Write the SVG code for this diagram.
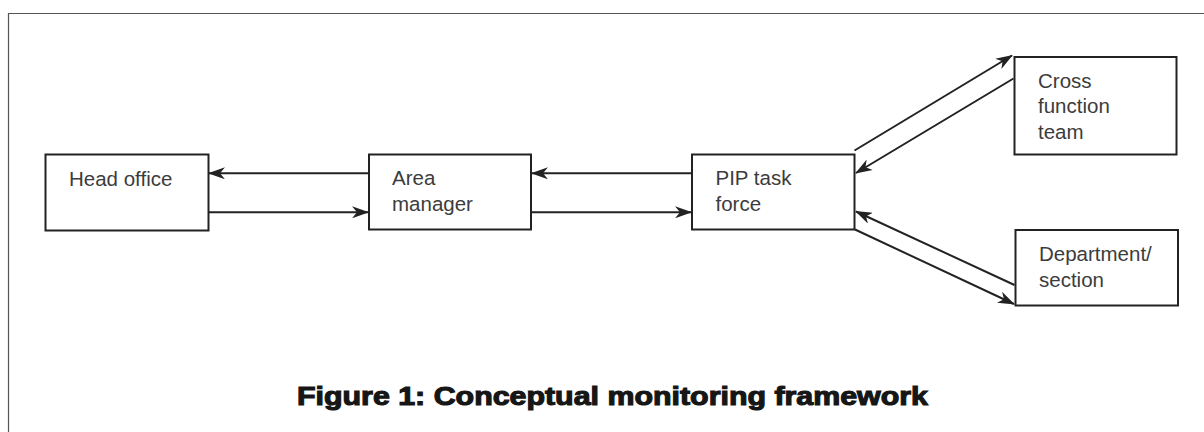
<svg xmlns="http://www.w3.org/2000/svg" width="1204" height="432" viewBox="0 0 1204 432">
  <style>
    .box { fill: #ffffff; stroke: #222222; stroke-width: 2; }
    .lbl { font-family: "Liberation Sans", Arial, sans-serif; font-size: 20.5px; fill: #3c3c3c; }
    .conn { stroke: #222222; stroke-width: 2; fill: none; marker-end: url(#arr); }
    .title { font-family: "Liberation Sans", Arial, sans-serif; font-size: 25px; font-weight: 900; fill: #161616; stroke: #161616; stroke-width: 1.1; }
  </style>
  <defs>
    <marker id="arr" viewBox="0 0 17 12" refX="16" refY="6" markerWidth="17" markerHeight="12" orient="auto" markerUnits="userSpaceOnUse">
      <path d="M0,0 L17,6 L0,12 L5,6 z" fill="#222222"/>
    </marker>
  </defs>
  <rect width="1204" height="432" fill="#ffffff"/>
  <path d="M8.5,432 L8.5,13.5 L1204,13.5" fill="none" stroke="#555555" stroke-width="1.2"/>

  <g id="connectors">
    <path class="conn" d="M368,173.3 L209,173.3"/>
    <path class="conn" d="M209,212.3 L368,212.3"/>
    <path class="conn" d="M692,173.3 L532,173.3"/>
    <path class="conn" d="M532,212.3 L691,212.3"/>
    <path class="conn" d="M854.5,150.5 L1012,55.5"/>
    <path class="conn" d="M1013.5,78.5 L856,173"/>
    <path class="conn" d="M1014.5,285 L856,211.5"/>
    <path class="conn" d="M855,229.5 L1014,304"/>
  </g>

  <g id="head-office">
    <rect class="box" x="45.5" y="154.5" width="163" height="76"/>
    <text class="lbl" x="69" y="186">Head office</text>
  </g>
  <g id="area-manager">
    <rect class="box" x="369" y="154.5" width="162" height="75"/>
    <text class="lbl" x="392" y="185">Area</text>
    <text class="lbl" x="392" y="211">manager</text>
  </g>
  <g id="pip-task-force">
    <rect class="box" x="692" y="154.5" width="162.5" height="75"/>
    <text class="lbl" x="715.5" y="185">PIP task</text>
    <text class="lbl" x="715.5" y="211">force</text>
  </g>
  <g id="cross-function-team">
    <rect class="box" x="1014.5" y="57" width="162" height="97.5"/>
    <text class="lbl" x="1038" y="87.5">Cross</text>
    <text class="lbl" x="1038" y="113">function</text>
    <text class="lbl" x="1038" y="138.5">team</text>
  </g>
  <g id="department-section">
    <rect class="box" x="1015.5" y="230" width="162.5" height="75.5"/>
    <text class="lbl" x="1039" y="261">Department/</text>
    <text class="lbl" x="1039" y="286.5">section</text>
  </g>

  <text class="title" x="297" y="405" textLength="631" lengthAdjust="spacingAndGlyphs">Figure 1: Conceptual monitoring framework</text>
</svg>
